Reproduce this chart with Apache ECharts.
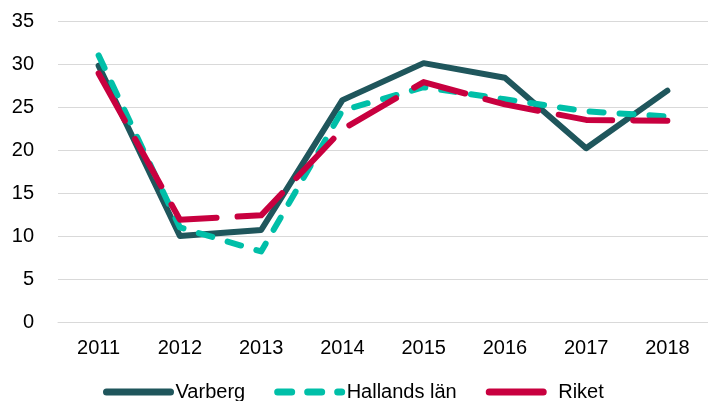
<!DOCTYPE html>
<html><head><meta charset="utf-8">
<script src="https://cdn.jsdelivr.net/npm/echarts@6/dist/echarts.min.js"></script>
<style>html,body{margin:0;padding:0;background:#fff}#c{width:708px;height:401px}</style>
</head><body><div id="c"></div>
<script>
const years = ['2011','2012','2013','2014','2015','2016','2017','2018'];
const varberg = [29.8, 10.0, 10.7, 25.8, 30.1, 28.4, 20.2, 26.9];
const hallands = [31.0, 11.0, 8.2, 24.6, 27.3, 25.9, 24.5, 23.9];
const riket = [28.9, 11.9, 12.4, 22.4, 27.9, 25.3, 23.5, 23.4];
const yTicks = [0, 5, 10, 15, 20, 25, 30, 35];

const chart = echarts.init(document.getElementById('c'));
const font = 'Liberation Sans, Arial, sans-serif';
chart.setOption({
  animation: false,
  grid: {left: 58, right: 0, top: 21, bottom: 79},
  legend: {
    top: 377, left: 98, itemWidth: 64, itemHeight: 20, itemGap: 29,
    itemStyle: {opacity: 0},
    lineStyle: {width: 7, cap: 'round'},
    textStyle: {fontFamily: font, fontSize: 20, color: '#000', padding: [0,0,0,0]},
    data: ['Varberg','Hallands län','Riket']
  },
  xAxis: {
    type: 'category', data: years,
    axisLine: {show: true, lineStyle: {color: '#d9d9d9', width: 1}},
    axisTick: {show: false},
    axisLabel: {fontFamily: font, fontSize: 20, color: '#000', margin: 16}
  },
  yAxis: {
    type: 'value', min: yTicks[0], max: yTicks[yTicks.length-1], interval: 5,
    axisLine: {show: false}, axisTick: {show: false},
    splitLine: {lineStyle: {color: '#d9d9d9', width: 1}},
    axisLabel: {fontFamily: font, fontSize: 20, color: '#000', margin: 24}
  },
  series: [
    {name: 'Varberg', type: 'line', data: varberg, symbol: 'none', z: 1,
     lineStyle: {color: '#1f565c', width: 6, cap: 'round', join: 'round'},
     itemStyle: {color: '#1f565c'}},
    {name: 'Hallands län', type: 'line', data: hallands, symbol: 'none', z: 2,
     lineStyle: {color: '#00bfa8', width: 6, type: [14, 16], cap: 'round', join: 'round'},
     itemStyle: {color: '#00bfa8'}},
    {name: 'Riket', type: 'line', data: riket, symbol: 'none', z: 3,
     lineStyle: {color: '#c8003f', width: 6, type: [54, 21], cap: 'round', join: 'round'},
     itemStyle: {color: '#c8003f'}}
  ]
});
</script></body></html>
